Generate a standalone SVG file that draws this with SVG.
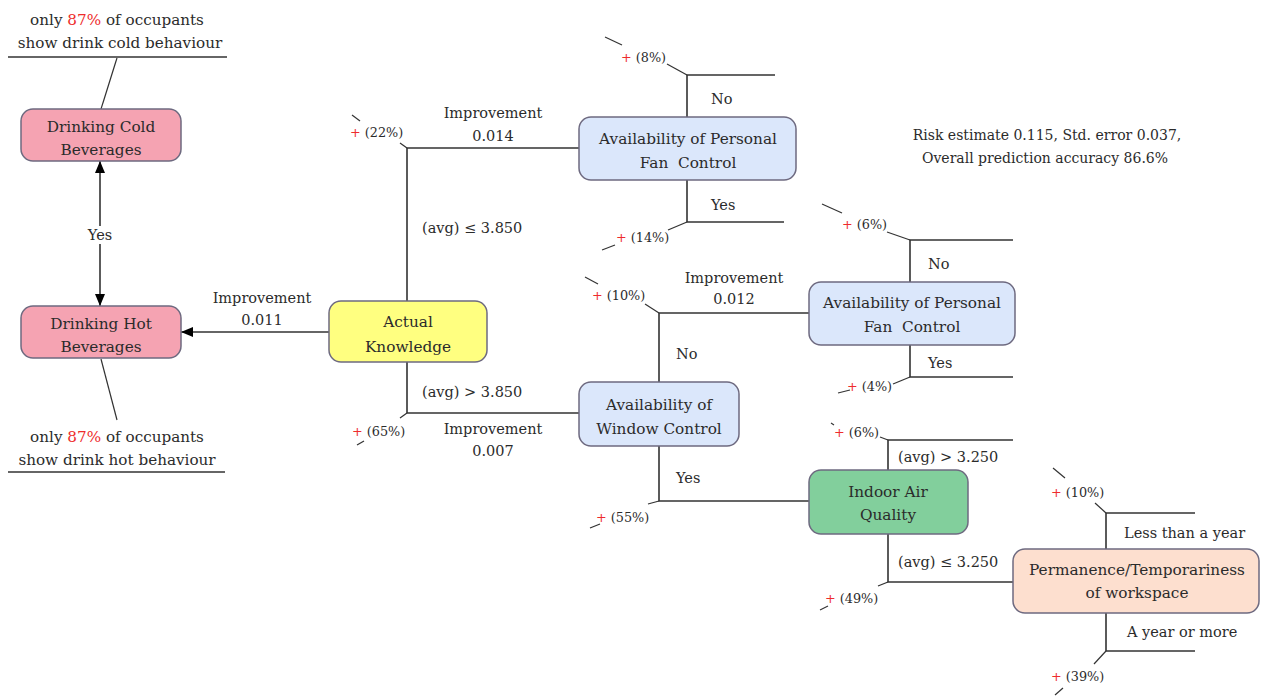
<svg xmlns="http://www.w3.org/2000/svg" width="1262" height="696" viewBox="0 0 1262 696">
<defs>
<marker id="ah" viewBox="0 0 12 10" refX="12" refY="5" markerWidth="12" markerHeight="10" markerUnits="userSpaceOnUse" orient="auto-start-reverse">
<path d="M0,0 L12,5 L0,10 Z" fill="#000"/>
</marker>
</defs>
<style>
text{font-family:"DejaVu Serif","Liberation Serif",serif;fill:#2b2b2b;}
.n{font-size:15.3px;text-anchor:middle;}
.l{font-size:14.5px;}
.a{font-size:15.2px;}
.k{font-size:14px;}
.c{text-anchor:middle;}
.p{font-size:12.8px;}
.r{fill:#ee2c2c;}
.ln{stroke:#333;stroke-width:1.6;fill:none;}
.tk{stroke:#333;stroke-width:1.2;fill:none;}
.box{stroke:#6e6a80;stroke-width:1.5;}
.pink{fill:#f5a3b2;}
.blue{fill:#dbe7fb;}
.yel{fill:#ffff80;}
.grn{fill:#82cf9c;}
.pch{fill:#fddfcf;}
</style>
<rect width="1262" height="696" fill="#fff"/>

<g id="connectors">
<line class="ln" x1="100" y1="161" x2="100" y2="306" marker-start="url(#ah)" marker-end="url(#ah)"/>
<rect x="84" y="226" width="32" height="18" fill="#fff"/>
<text class="l c" x="100" y="240">Yes</text>
<line class="ln" x1="329" y1="332" x2="181" y2="332" marker-end="url(#ah)"/>
<text class="l c" x="262" y="303">Improvement</text>
<text class="l c" x="262" y="325">0.011</text>
<line class="tk" x1="117" y1="58" x2="101" y2="109"/>
<line class="tk" x1="101" y1="359" x2="117" y2="420"/>
<line class="ln" x1="8" y1="57" x2="227" y2="57"/>
<line class="ln" x1="8" y1="472" x2="225" y2="472"/>

<polyline class="ln" points="579,148 407,148 407,301"/>
<polyline class="ln" points="407,362 407,413 579,413"/>
<text class="l c" x="493" y="118">Improvement</text>
<text class="l c" x="493" y="141">0.014</text>
<text class="l" x="422" y="233">(avg) ≤ 3.850</text>
<text class="l" x="422" y="397">(avg) &gt; 3.850</text>
<text class="l c" x="493" y="434">Improvement</text>
<text class="l c" x="493" y="456">0.007</text>

<polyline class="ln" points="775,75 687,75 687,117"/>
<polyline class="ln" points="687,180 687,222 784,222"/>
<text class="l" x="711" y="104">No</text>
<text class="l" x="711" y="210">Yes</text>

<polyline class="ln" points="809,313 659,313 659,382"/>
<polyline class="ln" points="659,446 659,501 809,501"/>
<text class="l" x="676" y="359">No</text>
<text class="l" x="676" y="483">Yes</text>
<text class="l c" x="734" y="283">Improvement</text>
<text class="l c" x="734" y="304">0.012</text>

<polyline class="ln" points="1013,240 910,240 910,282"/>
<polyline class="ln" points="910,345 910,377 1013,377"/>
<text class="l" x="928" y="269">No</text>
<text class="l" x="928" y="368">Yes</text>

<polyline class="ln" points="1013,440 888,440 888,470"/>
<polyline class="ln" points="888,534 888,582 1013,582"/>
<text class="l" x="898" y="462">(avg) &gt; 3.250</text>
<text class="l" x="898" y="567">(avg) ≤ 3.250</text>

<polyline class="ln" points="1195,513 1106,513 1106,549"/>
<polyline class="ln" points="1106,613 1106,651 1195,651"/>
<text class="l" x="1124" y="538">Less than a year</text>
<text class="l" x="1127" y="637">A year or more</text>
</g>

<g id="annotations">
<text class="a c" x="117" y="25">only <tspan class="r">87%</tspan> of occupants</text>
<text class="a c" x="120" y="48">show drink cold behaviour</text>
<text class="a c" x="117" y="442">only <tspan class="r">87%</tspan> of occupants</text>
<text class="a c" x="117" y="465">show drink hot behaviour</text>
<text class="k c" x="1047" y="140">Risk estimate 0.115, Std. error 0.037,</text>
<text class="k c" x="1045" y="163">Overall prediction accuracy 86.6%</text>
</g>

<g id="percentages">
<line class="tk" x1="352" y1="115" x2="360" y2="121"/>
<text class="p" x="350" y="137"><tspan class="r">+</tspan> (22%)</text>
<line class="tk" x1="400" y1="143" x2="407" y2="148"/>

<line class="tk" x1="357" y1="445" x2="364" y2="441"/>
<text class="p" x="352" y="436"><tspan class="r">+</tspan> (65%)</text>
<line class="tk" x1="400" y1="418" x2="407" y2="413"/>

<line class="tk" x1="605" y1="37" x2="622" y2="45"/>
<text class="p" x="621" y="62"><tspan class="r">+</tspan> (8%)</text>
<line class="tk" x1="667" y1="64" x2="687" y2="75"/>

<line class="tk" x1="602" y1="250" x2="615" y2="245"/>
<text class="p" x="616" y="242"><tspan class="r">+</tspan> (14%)</text>
<line class="tk" x1="668" y1="230" x2="687" y2="222"/>

<line class="tk" x1="585" y1="277" x2="598" y2="284"/>
<text class="p" x="592" y="300"><tspan class="r">+</tspan> (10%)</text>
<line class="tk" x1="645" y1="304" x2="659" y2="313"/>

<line class="tk" x1="590" y1="528" x2="600" y2="524"/>
<text class="p" x="596" y="522"><tspan class="r">+</tspan> (55%)</text>
<line class="tk" x1="648" y1="504" x2="659" y2="501"/>

<line class="tk" x1="822" y1="204" x2="842" y2="213"/>
<text class="p" x="842" y="229"><tspan class="r">+</tspan> (6%)</text>
<line class="tk" x1="887" y1="232" x2="910" y2="240"/>

<line class="tk" x1="838" y1="393" x2="850" y2="390"/>
<text class="p" x="847" y="391"><tspan class="r">+</tspan> (4%)</text>
<line class="tk" x1="893" y1="384" x2="910" y2="377"/>

<line class="tk" x1="831" y1="423" x2="834" y2="425"/>
<text class="p" x="834" y="437"><tspan class="r">+</tspan> (6%)</text>
<line class="tk" x1="880" y1="437" x2="888" y2="440"/>

<line class="tk" x1="820" y1="610" x2="828" y2="606"/>
<text class="p" x="825" y="603"><tspan class="r">+</tspan> (49%)</text>
<line class="tk" x1="878" y1="586" x2="888" y2="582"/>

<line class="tk" x1="1053" y1="468" x2="1065" y2="478"/>
<text class="p" x="1051" y="497"><tspan class="r">+</tspan> (10%)</text>
<line class="tk" x1="1095" y1="503" x2="1106" y2="513"/>

<line class="tk" x1="1055" y1="695" x2="1063" y2="688"/>
<text class="p" x="1051" y="681"><tspan class="r">+</tspan> (39%)</text>
<line class="tk" x1="1094" y1="664" x2="1106" y2="651"/>
</g>

<g id="node-cold">
<rect class="box pink" x="21" y="109" width="160" height="52" rx="12"/>
<text class="n" x="101" y="132">Drinking Cold</text>
<text class="n" x="101" y="155">Beverages</text>
</g>
<g id="node-hot">
<rect class="box pink" x="21" y="306" width="160" height="52" rx="12"/>
<text class="n" x="101" y="329">Drinking Hot</text>
<text class="n" x="101" y="352">Beverages</text>
</g>
<g id="node-knowledge">
<rect class="box yel" x="329" y="301" width="158" height="61" rx="12"/>
<text class="n" x="408" y="327">Actual</text>
<text class="n" x="408" y="352">Knowledge</text>
</g>
<g id="node-fan1">
<rect class="box blue" x="579" y="117" width="217" height="63" rx="12"/>
<text class="n" x="688" y="144">Availability of Personal</text>
<text class="n" x="688" y="168">Fan&#160; Control</text>
</g>
<g id="node-window">
<rect class="box blue" x="579" y="382" width="160" height="64" rx="12"/>
<text class="n" x="659" y="410">Availability of</text>
<text class="n" x="659" y="434">Window Control</text>
</g>
<g id="node-fan2">
<rect class="box blue" x="809" y="282" width="206" height="63" rx="12"/>
<text class="n" x="912" y="308">Availability of Personal</text>
<text class="n" x="912" y="332">Fan&#160; Control</text>
</g>
<g id="node-iaq">
<rect class="box grn" x="809" y="470" width="159" height="64" rx="12"/>
<text class="n" x="888" y="497">Indoor Air</text>
<text class="n" x="888" y="520">Quality</text>
</g>
<g id="node-permanence">
<rect class="box pch" x="1013" y="549" width="246" height="64" rx="12"/>
<text class="n" x="1137" y="575">Permanence/Temporariness</text>
<text class="n" x="1137" y="598">of workspace</text>
</g>
</svg>
